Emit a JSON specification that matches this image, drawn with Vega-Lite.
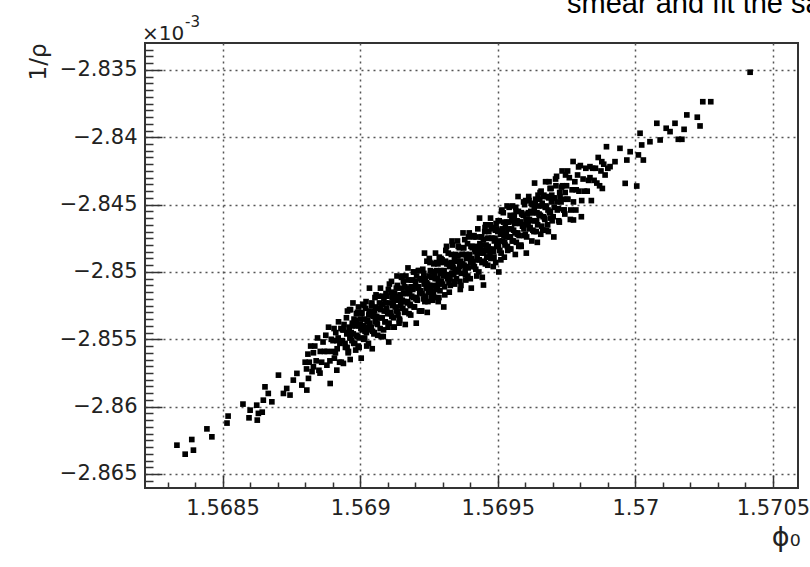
{
"$schema": "https://vega.github.io/schema/vega-lite/v6.json",
"width": 653, "height": 445,
"autosize": {"type": "none"},
"padding": {"left": 145, "top": 43, "right": 12, "bottom": 79},
"background": "white",
"config": {"view": {"stroke": "#333", "strokeWidth": 2}, "font": "DejaVu Sans"},
"data": {"values": [
{"x":1.568334,"y":-2.86286},{"x":1.568364,"y":-2.86353},{"x":1.568388,"y":-2.86244},{"x":1.568394,"y":-2.86323},{"x":1.568443,"y":-2.86165},{"x":1.568461,"y":-2.86224},{"x":1.568516,"y":-2.86122},{"x":1.56852,"y":-2.8607},{"x":1.568574,"y":-2.85981},{"x":1.568596,"y":-2.86083},{"x":1.5686,"y":-2.86026},{"x":1.568624,"y":-2.85989},{"x":1.568626,"y":-2.861},{"x":1.56863,"y":-2.8605},{"x":1.568644,"y":-2.86041},{"x":1.568648,"y":-2.85952},{"x":1.568654,"y":-2.85853},{"x":1.568666,"y":-2.85902},{"x":1.568679,"y":-2.85964},{"x":1.568703,"y":-2.85766},{"x":1.568721,"y":-2.85902},{"x":1.568733,"y":-2.85865},{"x":1.568745,"y":-2.85914},{"x":1.568757,"y":-2.85803},{"x":1.56877,"y":-2.85753},{"x":1.568788,"y":-2.8584},{"x":1.568806,"y":-2.85877},{"x":1.568812,"y":-2.8579},{"x":1.56883,"y":-2.85704},{"x":1.568854,"y":-2.85751},{"x":1.568879,"y":-2.85692},{"x":1.568891,"y":-2.85828},{"x":1.568915,"y":-2.85729},{"x":1.568939,"y":-2.85679},
{"x":1.5688,"y":-2.8567},{"x":1.568805,"y":-2.8572},{"x":1.56881,"y":-2.8561},{"x":1.568815,"y":-2.8567},{"x":1.56882,"y":-2.8555},{"x":1.568825,"y":-2.8574},{"x":1.56883,"y":-2.856},{"x":1.568835,"y":-2.8555},{"x":1.56884,"y":-2.8566},{"x":1.568845,"y":-2.8549},{"x":1.56885,"y":-2.8573},{"x":1.568855,"y":-2.8559},{"x":1.56886,"y":-2.8567},{"x":1.568865,"y":-2.8552},{"x":1.56887,"y":-2.8559},{"x":1.568875,"y":-2.8547},{"x":1.56888,"y":-2.8559},{"x":1.568885,"y":-2.8541},{"x":1.56889,"y":-2.8566},{"x":1.568895,"y":-2.855},{"x":1.5689,"y":-2.8559},{"x":1.568905,"y":-2.8542},{"x":1.56891,"y":-2.856},{"x":1.568915,"y":-2.8551},{"x":1.56892,"y":-2.8549},{"x":1.568925,"y":-2.8567},{"x":1.56893,"y":-2.8542},{"x":1.568935,"y":-2.8551},{"x":1.56894,"y":-2.8543},{"x":1.568945,"y":-2.8553},
{"x":1.56895,"y":-2.8534},{"x":1.5689525,"y":-2.8556},{"x":1.568955,"y":-2.8545},{"x":1.5689575,"y":-2.8559},{"x":1.56896,"y":-2.8541},{"x":1.5689625,"y":-2.8549},{"x":1.568965,"y":-2.8528},{"x":1.5689675,"y":-2.8545},{"x":1.56897,"y":-2.8551},{"x":1.5689725,"y":-2.854},{"x":1.568975,"y":-2.8546},{"x":1.5689775,"y":-2.8535},{"x":1.56898,"y":-2.8553},{"x":1.5689825,"y":-2.854},{"x":1.568985,"y":-2.8536},{"x":1.5689875,"y":-2.8547},{"x":1.56899,"y":-2.853},{"x":1.5689925,"y":-2.8555},{"x":1.568995,"y":-2.854},{"x":1.5689975,"y":-2.8549},
{"x":1.569,"y":-2.8535},{"x":1.5690025,"y":-2.8542},{"x":1.569005,"y":-2.853},{"x":1.5690075,"y":-2.8543},{"x":1.56901,"y":-2.8524},{"x":1.5690125,"y":-2.855},{"x":1.569015,"y":-2.8535},{"x":1.5690175,"y":-2.8544},{"x":1.56902,"y":-2.8527},{"x":1.5690225,"y":-2.8545},{"x":1.569025,"y":-2.8537},{"x":1.5690275,"y":-2.8536},{"x":1.56903,"y":-2.8553},{"x":1.5690325,"y":-2.8529},{"x":1.569035,"y":-2.8538},{"x":1.5690375,"y":-2.853},{"x":1.56904,"y":-2.8541},{"x":1.5690425,"y":-2.8523},{"x":1.569045,"y":-2.8544},{"x":1.5690475,"y":-2.8533},
{"x":1.56905,"y":-2.8546},{"x":1.5690525,"y":-2.8529},{"x":1.569055,"y":-2.8537},{"x":1.5690575,"y":-2.8517},{"x":1.56906,"y":-2.8533},{"x":1.5690625,"y":-2.8539},{"x":1.569065,"y":-2.8527},{"x":1.5690675,"y":-2.8534},{"x":1.56907,"y":-2.8523},{"x":1.5690725,"y":-2.8542},{"x":1.569075,"y":-2.8528},{"x":1.5690775,"y":-2.8524},{"x":1.56908,"y":-2.8534},{"x":1.5690825,"y":-2.8518},{"x":1.569085,"y":-2.8543},{"x":1.5690875,"y":-2.8529},{"x":1.56909,"y":-2.8537},{"x":1.5690925,"y":-2.8523},{"x":1.569095,"y":-2.8529},{"x":1.5690975,"y":-2.8518},
{"x":1.5691,"y":-2.8531},{"x":1.5691025,"y":-2.8513},{"x":1.569105,"y":-2.8538},{"x":1.5691075,"y":-2.8523},{"x":1.56911,"y":-2.8531},{"x":1.5691125,"y":-2.8515},{"x":1.569115,"y":-2.8533},{"x":1.5691175,"y":-2.8525},{"x":1.56912,"y":-2.8523},{"x":1.5691225,"y":-2.8541},{"x":1.569125,"y":-2.8516},{"x":1.5691275,"y":-2.8526},{"x":1.56913,"y":-2.8518},{"x":1.5691325,"y":-2.8529},{"x":1.569135,"y":-2.851},{"x":1.5691375,"y":-2.8532},{"x":1.56914,"y":-2.8521},{"x":1.5691425,"y":-2.8535},{"x":1.569145,"y":-2.8517},{"x":1.5691475,"y":-2.8525},
{"x":1.56915,"y":-2.8504},{"x":1.5691525,"y":-2.8521},{"x":1.569155,"y":-2.8527},{"x":1.5691575,"y":-2.8516},{"x":1.56916,"y":-2.8522},{"x":1.5691625,"y":-2.8511},{"x":1.569165,"y":-2.8529},{"x":1.5691675,"y":-2.8516},{"x":1.56917,"y":-2.8512},{"x":1.5691725,"y":-2.8523},{"x":1.569175,"y":-2.8506},{"x":1.5691775,"y":-2.8531},{"x":1.56918,"y":-2.8516},{"x":1.5691825,"y":-2.8525},{"x":1.569185,"y":-2.8511},{"x":1.5691875,"y":-2.8518},{"x":1.56919,"y":-2.8506},{"x":1.5691925,"y":-2.8519},{"x":1.569195,"y":-2.85},{"x":1.5691975,"y":-2.8526},
{"x":1.5692,"y":-2.8511},{"x":1.5692025,"y":-2.852},{"x":1.569205,"y":-2.8503},{"x":1.5692075,"y":-2.8521},{"x":1.56921,"y":-2.8512},{"x":1.5692125,"y":-2.8511},{"x":1.569215,"y":-2.8529},{"x":1.5692175,"y":-2.8505},{"x":1.56922,"y":-2.8514},{"x":1.5692225,"y":-2.8506},{"x":1.569225,"y":-2.8516},{"x":1.5692275,"y":-2.8498},{"x":1.56923,"y":-2.852},{"x":1.5692325,"y":-2.8509},{"x":1.569235,"y":-2.8522},{"x":1.5692375,"y":-2.8505},{"x":1.56924,"y":-2.8512},{"x":1.5692425,"y":-2.8492},{"x":1.569245,"y":-2.8509},{"x":1.5692475,"y":-2.8515},
{"x":1.56925,"y":-2.8503},{"x":1.5692525,"y":-2.851},{"x":1.569255,"y":-2.8499},{"x":1.5692575,"y":-2.8518},{"x":1.56926,"y":-2.8504},{"x":1.5692625,"y":-2.85},{"x":1.569265,"y":-2.851},{"x":1.5692675,"y":-2.8494},{"x":1.56927,"y":-2.8519},{"x":1.5692725,"y":-2.8505},{"x":1.569275,"y":-2.8513},{"x":1.5692775,"y":-2.8499},{"x":1.56928,"y":-2.8505},{"x":1.5692825,"y":-2.8494},{"x":1.569285,"y":-2.8507},{"x":1.5692875,"y":-2.8489},{"x":1.56929,"y":-2.8514},{"x":1.5692925,"y":-2.8499},{"x":1.569295,"y":-2.8507},{"x":1.5692975,"y":-2.8491},
{"x":1.5693,"y":-2.8509},{"x":1.5693025,"y":-2.8501},{"x":1.569305,"y":-2.8499},{"x":1.5693075,"y":-2.8517},{"x":1.56931,"y":-2.8492},{"x":1.5693125,"y":-2.8502},{"x":1.569315,"y":-2.8494},{"x":1.5693175,"y":-2.8505},{"x":1.56932,"y":-2.8486},{"x":1.5693225,"y":-2.8508},{"x":1.569325,"y":-2.8496},{"x":1.5693275,"y":-2.851},{"x":1.56933,"y":-2.8493},{"x":1.5693325,"y":-2.8501},{"x":1.569335,"y":-2.848},{"x":1.5693375,"y":-2.8497},{"x":1.56934,"y":-2.8502},{"x":1.5693425,"y":-2.8491},{"x":1.569345,"y":-2.8498},{"x":1.5693475,"y":-2.8487},
{"x":1.56935,"y":-2.8505},{"x":1.5693525,"y":-2.8492},{"x":1.569355,"y":-2.8488},{"x":1.5693575,"y":-2.8499},{"x":1.56936,"y":-2.8482},{"x":1.5693625,"y":-2.8507},{"x":1.569365,"y":-2.8492},{"x":1.5693675,"y":-2.8501},{"x":1.56937,"y":-2.8487},{"x":1.5693725,"y":-2.8494},{"x":1.569375,"y":-2.8482},{"x":1.5693775,"y":-2.8495},{"x":1.56938,"y":-2.8476},{"x":1.5693825,"y":-2.8502},{"x":1.569385,"y":-2.8487},{"x":1.5693875,"y":-2.8496},{"x":1.56939,"y":-2.8479},{"x":1.5693925,"y":-2.8497},{"x":1.569395,"y":-2.8488},{"x":1.5693975,"y":-2.8487},
{"x":1.5694,"y":-2.8505},{"x":1.5694025,"y":-2.8481},{"x":1.569405,"y":-2.849},{"x":1.5694075,"y":-2.8482},{"x":1.56941,"y":-2.8492},{"x":1.5694125,"y":-2.8474},{"x":1.569415,"y":-2.8496},{"x":1.5694175,"y":-2.8485},{"x":1.56942,"y":-2.8498},{"x":1.5694225,"y":-2.8481},{"x":1.569425,"y":-2.8488},{"x":1.5694275,"y":-2.8468},{"x":1.56943,"y":-2.8485},{"x":1.5694325,"y":-2.8491},{"x":1.569435,"y":-2.8479},{"x":1.5694375,"y":-2.8486},{"x":1.56944,"y":-2.8474},{"x":1.5694425,"y":-2.8493},{"x":1.569445,"y":-2.848},{"x":1.5694475,"y":-2.8476},
{"x":1.56945,"y":-2.8486},{"x":1.5694525,"y":-2.847},{"x":1.569455,"y":-2.8494},{"x":1.5694575,"y":-2.848},{"x":1.56946,"y":-2.8489},{"x":1.5694625,"y":-2.8475},{"x":1.569465,"y":-2.8481},{"x":1.5694675,"y":-2.847},{"x":1.56947,"y":-2.8483},{"x":1.5694725,"y":-2.8465},{"x":1.569475,"y":-2.849},{"x":1.5694775,"y":-2.8475},{"x":1.56948,"y":-2.8483},{"x":1.5694825,"y":-2.8467},{"x":1.569485,"y":-2.8485},{"x":1.5694875,"y":-2.8477},{"x":1.56949,"y":-2.8475},{"x":1.5694925,"y":-2.8493},{"x":1.569495,"y":-2.8468},{"x":1.5694975,"y":-2.8478},
{"x":1.5695,"y":-2.847},{"x":1.5695025,"y":-2.8481},{"x":1.569505,"y":-2.8462},{"x":1.5695075,"y":-2.8484},{"x":1.56951,"y":-2.8472},{"x":1.5695125,"y":-2.8486},{"x":1.569515,"y":-2.8469},{"x":1.5695175,"y":-2.8477},{"x":1.56952,"y":-2.8456},{"x":1.5695225,"y":-2.8473},{"x":1.569525,"y":-2.8478},{"x":1.5695275,"y":-2.8467},{"x":1.56953,"y":-2.8474},{"x":1.5695325,"y":-2.8463},{"x":1.569535,"y":-2.8481},{"x":1.5695375,"y":-2.8468},{"x":1.56954,"y":-2.8463},{"x":1.5695425,"y":-2.8474},{"x":1.569545,"y":-2.8458},{"x":1.5695475,"y":-2.8483},
{"x":1.56955,"y":-2.8468},{"x":1.5695525,"y":-2.8477},{"x":1.569555,"y":-2.8462},{"x":1.5695575,"y":-2.8469},{"x":1.56956,"y":-2.8458},{"x":1.5695625,"y":-2.8471},{"x":1.569565,"y":-2.8452},{"x":1.5695675,"y":-2.8478},{"x":1.56957,"y":-2.8462},{"x":1.5695725,"y":-2.8471},{"x":1.569575,"y":-2.8455},{"x":1.5695775,"y":-2.8473},{"x":1.56958,"y":-2.8464},{"x":1.5695825,"y":-2.8463},{"x":1.569585,"y":-2.8481},{"x":1.5695875,"y":-2.8457},{"x":1.56959,"y":-2.8466},{"x":1.5695925,"y":-2.8458},{"x":1.569595,"y":-2.8468},{"x":1.5695975,"y":-2.845},
{"x":1.5696,"y":-2.8472},{"x":1.5696025,"y":-2.8461},{"x":1.569605,"y":-2.8474},{"x":1.5696075,"y":-2.8457},{"x":1.56961,"y":-2.8464},{"x":1.5696125,"y":-2.8444},{"x":1.569615,"y":-2.8461},{"x":1.5696175,"y":-2.8467},{"x":1.56962,"y":-2.8455},{"x":1.5696225,"y":-2.8462},{"x":1.569625,"y":-2.845},{"x":1.5696275,"y":-2.8469},{"x":1.56963,"y":-2.8456},{"x":1.5696325,"y":-2.8452},{"x":1.569635,"y":-2.8462},{"x":1.5696375,"y":-2.8446},{"x":1.56964,"y":-2.847},{"x":1.5696425,"y":-2.8456},{"x":1.569645,"y":-2.8465},{"x":1.5696475,"y":-2.8451},
{"x":1.56965,"y":-2.8457},{"x":1.5696525,"y":-2.8446},{"x":1.569655,"y":-2.8458},{"x":1.5696575,"y":-2.844},{"x":1.56966,"y":-2.8466},{"x":1.5696625,"y":-2.8451},{"x":1.569665,"y":-2.8459},{"x":1.5696675,"y":-2.8443},{"x":1.56967,"y":-2.846},{"x":1.5696725,"y":-2.8452},{"x":1.569675,"y":-2.8451},{"x":1.5696775,"y":-2.8469},{"x":1.56968,"y":-2.8444},{"x":1.5696825,"y":-2.8454},{"x":1.569685,"y":-2.8445},{"x":1.5696875,"y":-2.8456},{"x":1.56969,"y":-2.8438},{"x":1.5696925,"y":-2.846},{"x":1.569695,"y":-2.8448},{"x":1.5696975,"y":-2.8462},
{"x":1.5697,"y":-2.8445},{"x":1.569705,"y":-2.8452},{"x":1.56971,"y":-2.8431},{"x":1.569715,"y":-2.8448},{"x":1.56972,"y":-2.8453},{"x":1.569725,"y":-2.8441},{"x":1.56973,"y":-2.8448},{"x":1.569735,"y":-2.8436},{"x":1.56974,"y":-2.8454},{"x":1.569745,"y":-2.8441},{"x":1.56975,"y":-2.8436},{"x":1.569755,"y":-2.8446},{"x":1.56976,"y":-2.843},{"x":1.569765,"y":-2.8454},{"x":1.56977,"y":-2.8439},{"x":1.569775,"y":-2.8448},{"x":1.56978,"y":-2.8433},{"x":1.569785,"y":-2.8439},{"x":1.56979,"y":-2.8428},{"x":1.569795,"y":-2.844},{"x":1.5698,"y":-2.8421},{"x":1.569805,"y":-2.8447},{"x":1.56981,"y":-2.8431},{"x":1.569815,"y":-2.844},{"x":1.56982,"y":-2.8423},{"x":1.569825,"y":-2.844},{"x":1.56983,"y":-2.8432},{"x":1.569835,"y":-2.843},{"x":1.56984,"y":-2.8447},{"x":1.569845,"y":-2.8423},{"x":1.56985,"y":-2.8432},{"x":1.569855,"y":-2.8423},{"x":1.56986,"y":-2.8434},{"x":1.569865,"y":-2.8415},{"x":1.56987,"y":-2.8436},{"x":1.569875,"y":-2.8425},{"x":1.56988,"y":-2.8438},{"x":1.569885,"y":-2.842},{"x":1.56989,"y":-2.8428},{"x":1.569895,"y":-2.8407},{"x":1.5699,"y":-2.8423},
{"x":1.570417,"y":-2.83517},{"x":1.570245,"y":-2.83736},{"x":1.570274,"y":-2.83736},{"x":1.570187,"y":-2.83834},{"x":1.570225,"y":-2.83851},{"x":1.570235,"y":-2.83916},{"x":1.570144,"y":-2.83896},{"x":1.570177,"y":-2.83941},{"x":1.570078,"y":-2.83896},{"x":1.570112,"y":-2.83933},{"x":1.570126,"y":-2.83958},{"x":1.570156,"y":-2.84015},{"x":1.570169,"y":-2.84015},{"x":1.570017,"y":-2.8397},{"x":1.57009,"y":-2.8402},{"x":1.570053,"y":-2.84033},{"x":1.570023,"y":-2.84057},{"x":1.569944,"y":-2.84082},{"x":1.569981,"y":-2.84107},{"x":1.570011,"y":-2.84131},{"x":1.570029,"y":-2.84169},{"x":1.569969,"y":-2.84169},{"x":1.569926,"y":-2.84181},{"x":1.570005,"y":-2.84362},{"x":1.569963,"y":-2.84342},{"x":1.569878,"y":-2.84181},{"x":1.569908,"y":-2.84218},{"x":1.569835,"y":-2.84218},
{"x":1.569775,"y":-2.84614},{"x":1.569448,"y":-2.85097},{"x":1.569515,"y":-2.8454},{"x":1.569157,"y":-2.85073},
{"x":1.56890125,"y":-2.8551},{"x":1.56890625,"y":-2.8564},{"x":1.56891125,"y":-2.8545},{"x":1.56891625,"y":-2.8557},{"x":1.56892125,"y":-2.8537},{"x":1.56892625,"y":-2.8553},{"x":1.56893125,"y":-2.8567},{"x":1.56893625,"y":-2.8543},{"x":1.56894125,"y":-2.8539},{"x":1.56894625,"y":-2.8556},
{"x":1.56895125,"y":-2.8546},{"x":1.56895625,"y":-2.856},{"x":1.56896125,"y":-2.8528},{"x":1.56896625,"y":-2.8549},{"x":1.56897125,"y":-2.8538},{"x":1.56897625,"y":-2.8553},{"x":1.56898125,"y":-2.8539},{"x":1.56898625,"y":-2.8531},{"x":1.56899125,"y":-2.8548},{"x":1.56899625,"y":-2.8556},
{"x":1.56900125,"y":-2.8539},{"x":1.56900625,"y":-2.8531},{"x":1.56901125,"y":-2.854},{"x":1.56901625,"y":-2.8549},{"x":1.56902125,"y":-2.8522},{"x":1.56902625,"y":-2.8541},{"x":1.56903125,"y":-2.8532},{"x":1.56903625,"y":-2.8543},{"x":1.56904125,"y":-2.8525},{"x":1.56904625,"y":-2.8532},
{"x":1.56905125,"y":-2.8545},{"x":1.56905625,"y":-2.8526},{"x":1.56906125,"y":-2.8538},{"x":1.56906625,"y":-2.8518},{"x":1.56907125,"y":-2.8534},{"x":1.56907625,"y":-2.8548},{"x":1.56908125,"y":-2.8524},{"x":1.56908625,"y":-2.852},{"x":1.56909125,"y":-2.8537},{"x":1.56909625,"y":-2.8527},
{"x":1.56910125,"y":-2.8541},{"x":1.56910625,"y":-2.8509},{"x":1.56911125,"y":-2.853},{"x":1.56911625,"y":-2.8519},{"x":1.56912125,"y":-2.8534},{"x":1.56912625,"y":-2.852},{"x":1.56913125,"y":-2.8512},{"x":1.56913625,"y":-2.8529},{"x":1.56914125,"y":-2.8538},{"x":1.56914625,"y":-2.852},
{"x":1.56915125,"y":-2.8512},{"x":1.56915625,"y":-2.8522},{"x":1.56916125,"y":-2.853},{"x":1.56916625,"y":-2.8503},{"x":1.56917125,"y":-2.8522},{"x":1.56917625,"y":-2.8513},{"x":1.56918125,"y":-2.8524},{"x":1.56918625,"y":-2.8506},{"x":1.56919125,"y":-2.8513},{"x":1.56919625,"y":-2.8526},
{"x":1.56920125,"y":-2.8507},{"x":1.56920625,"y":-2.8519},{"x":1.56921125,"y":-2.8499},{"x":1.56921625,"y":-2.8515},{"x":1.56922125,"y":-2.8529},{"x":1.56922625,"y":-2.8505},{"x":1.56923125,"y":-2.8501},{"x":1.56923625,"y":-2.8518},{"x":1.56924125,"y":-2.8508},{"x":1.56924625,"y":-2.8522},
{"x":1.56925125,"y":-2.849},{"x":1.56925625,"y":-2.8512},{"x":1.56926125,"y":-2.85},{"x":1.56926625,"y":-2.8515},{"x":1.56927125,"y":-2.8502},{"x":1.56927625,"y":-2.8493},{"x":1.56928125,"y":-2.851},{"x":1.56928625,"y":-2.8519},{"x":1.56929125,"y":-2.8501},{"x":1.56929625,"y":-2.8493},
{"x":1.56930125,"y":-2.8503},{"x":1.56930625,"y":-2.8511},{"x":1.56931125,"y":-2.8484},{"x":1.56931625,"y":-2.8503},{"x":1.56932125,"y":-2.8494},{"x":1.56932625,"y":-2.8505},{"x":1.56933125,"y":-2.8487},{"x":1.56933625,"y":-2.8494},{"x":1.56934125,"y":-2.8507},{"x":1.56934625,"y":-2.8488},
{"x":1.56935125,"y":-2.85},{"x":1.56935625,"y":-2.8481},{"x":1.56936125,"y":-2.8496},{"x":1.56936625,"y":-2.851},{"x":1.56937125,"y":-2.8487},{"x":1.56937625,"y":-2.8482},{"x":1.56938125,"y":-2.8499},{"x":1.56938625,"y":-2.849},{"x":1.56939125,"y":-2.8503},{"x":1.56939625,"y":-2.8471},
{"x":1.56940125,"y":-2.8493},{"x":1.56940625,"y":-2.8481},{"x":1.56941125,"y":-2.8496},{"x":1.56941625,"y":-2.8483},{"x":1.56942125,"y":-2.8474},{"x":1.56942625,"y":-2.8491},{"x":1.56943125,"y":-2.85},{"x":1.56943625,"y":-2.8482},{"x":1.56944125,"y":-2.8474},{"x":1.56944625,"y":-2.8484},
{"x":1.56945125,"y":-2.8492},{"x":1.56945625,"y":-2.8465},{"x":1.56946125,"y":-2.8484},{"x":1.56946625,"y":-2.8475},{"x":1.56947125,"y":-2.8487},{"x":1.56947625,"y":-2.8468},{"x":1.56948125,"y":-2.8475},{"x":1.56948625,"y":-2.8489},{"x":1.56949125,"y":-2.8469},{"x":1.56949625,"y":-2.8481},
{"x":1.56950125,"y":-2.8462},{"x":1.56950625,"y":-2.8477},{"x":1.56951125,"y":-2.8491},{"x":1.56951625,"y":-2.8468},{"x":1.56952125,"y":-2.8463},{"x":1.56952625,"y":-2.848},{"x":1.56953125,"y":-2.8471},{"x":1.56953625,"y":-2.8484},{"x":1.56954125,"y":-2.8452},{"x":1.56954625,"y":-2.8474},
{"x":1.56955125,"y":-2.8462},{"x":1.56955625,"y":-2.8477},{"x":1.56956125,"y":-2.8464},{"x":1.56956625,"y":-2.8455},{"x":1.56957125,"y":-2.8472},{"x":1.56957625,"y":-2.8481},{"x":1.56958125,"y":-2.8463},{"x":1.56958625,"y":-2.8456},{"x":1.56959125,"y":-2.8465},{"x":1.56959625,"y":-2.8473},
{"x":1.56960125,"y":-2.8447},{"x":1.56960625,"y":-2.8465},{"x":1.56961125,"y":-2.8456},{"x":1.56961625,"y":-2.8468},{"x":1.56962125,"y":-2.8449},{"x":1.56962625,"y":-2.8456},{"x":1.56963125,"y":-2.847},{"x":1.56963625,"y":-2.845},{"x":1.56964125,"y":-2.8462},{"x":1.56964625,"y":-2.8443},
{"x":1.56965125,"y":-2.8458},{"x":1.56965625,"y":-2.8472},{"x":1.56966125,"y":-2.8449},{"x":1.56966625,"y":-2.8444},{"x":1.56967125,"y":-2.8461},{"x":1.56967625,"y":-2.8452},{"x":1.56968125,"y":-2.8465},{"x":1.56968625,"y":-2.8433},{"x":1.56969125,"y":-2.8455},{"x":1.56969625,"y":-2.8443},
{"x":1.56970125,"y":-2.8459},{"x":1.56970625,"y":-2.8445},{"x":1.56971125,"y":-2.8436},{"x":1.56971625,"y":-2.8454},{"x":1.56972125,"y":-2.8462},{"x":1.56972625,"y":-2.8444},{"x":1.56973125,"y":-2.8437},{"x":1.56973625,"y":-2.8446},{"x":1.56974125,"y":-2.8454},{"x":1.56974625,"y":-2.8428},{"x":1.56975125,"y":-2.8446},
{"x":1.5689537,"y":-2.8529},{"x":1.5689637,"y":-2.8565},{"x":1.5689737,"y":-2.8523},{"x":1.5689837,"y":-2.8558},{"x":1.5689937,"y":-2.8526},{"x":1.5690037,"y":-2.8564},{"x":1.5690137,"y":-2.8525},{"x":1.5690237,"y":-2.8555},{"x":1.5690337,"y":-2.8512},{"x":1.5690437,"y":-2.8557},
{"x":1.5690537,"y":-2.8519},{"x":1.5690637,"y":-2.8547},{"x":1.5690737,"y":-2.8512},{"x":1.5690837,"y":-2.8548},{"x":1.5690937,"y":-2.8516},{"x":1.5691037,"y":-2.8552},{"x":1.5691137,"y":-2.8507},{"x":1.5691237,"y":-2.8541},{"x":1.5691337,"y":-2.8503},{"x":1.5691437,"y":-2.8536},
{"x":1.5691537,"y":-2.8503},{"x":1.5691637,"y":-2.8539},{"x":1.5691737,"y":-2.8497},{"x":1.5691837,"y":-2.8532},{"x":1.5691937,"y":-2.85},{"x":1.5692037,"y":-2.8538},{"x":1.5692137,"y":-2.8499},{"x":1.5692237,"y":-2.8529},{"x":1.5692337,"y":-2.8486},{"x":1.5692437,"y":-2.853},
{"x":1.5692537,"y":-2.8493},{"x":1.5692637,"y":-2.8521},{"x":1.5692737,"y":-2.8486},{"x":1.5692837,"y":-2.8522},{"x":1.5692937,"y":-2.849},{"x":1.5693037,"y":-2.8526},{"x":1.5693137,"y":-2.8481},{"x":1.5693237,"y":-2.8515},{"x":1.5693337,"y":-2.8477},{"x":1.5693437,"y":-2.8509},
{"x":1.5693537,"y":-2.8477},{"x":1.5693637,"y":-2.8513},{"x":1.5693737,"y":-2.8471},{"x":1.5693837,"y":-2.8506},{"x":1.5693937,"y":-2.8474},{"x":1.5694037,"y":-2.8512},{"x":1.5694137,"y":-2.8473},{"x":1.5694237,"y":-2.8503},{"x":1.5694337,"y":-2.846},{"x":1.5694437,"y":-2.8504},
{"x":1.5694537,"y":-2.8467},{"x":1.5694637,"y":-2.8495},{"x":1.5694737,"y":-2.846},{"x":1.5694837,"y":-2.8496},{"x":1.5694937,"y":-2.8464},{"x":1.5695037,"y":-2.85},{"x":1.5695137,"y":-2.8455},{"x":1.5695237,"y":-2.8489},{"x":1.5695337,"y":-2.8451},{"x":1.5695437,"y":-2.8483},
{"x":1.5695537,"y":-2.8451},{"x":1.5695637,"y":-2.8487},{"x":1.5695737,"y":-2.8444},{"x":1.5695837,"y":-2.848},{"x":1.5695937,"y":-2.8448},{"x":1.5696037,"y":-2.8486},{"x":1.5696137,"y":-2.8447},{"x":1.5696237,"y":-2.8477},{"x":1.5696337,"y":-2.8434},{"x":1.5696437,"y":-2.8478},
{"x":1.5696537,"y":-2.8441},{"x":1.5696637,"y":-2.8469},{"x":1.5696737,"y":-2.8433},{"x":1.5696837,"y":-2.847},{"x":1.5696937,"y":-2.8438},{"x":1.5697037,"y":-2.8474},{"x":1.5697137,"y":-2.8429},{"x":1.5697237,"y":-2.8463},{"x":1.5697337,"y":-2.8425},{"x":1.5697437,"y":-2.8457},
{"x":1.5697537,"y":-2.8425},{"x":1.5697637,"y":-2.8461},{"x":1.5697737,"y":-2.8418},{"x":1.5697837,"y":-2.8454},{"x":1.5697937,"y":-2.8422},{"x":1.5698037,"y":-2.8459}
]},
"layer": [
{"mark": {"type": "point", "shape": "square", "filled": true, "size": 32, "color": "black", "opacity": 1},
 "encoding": {
  "x": {"field": "x", "type": "quantitative",
   "scale": {"domain": [1.568218, 1.570591], "nice": false, "zero": false},
   "axis": {
    "values": [1.5683,1.5684,1.5685,1.5686,1.5687,1.5688,1.5689,1.569,1.5691,1.5692,1.5693,1.5694,1.5695,1.5696,1.5697,1.5698,1.5699,1.57,1.5701,1.5702,1.5703,1.5704,1.5705],
    "tickCount": 200,
    "labelExpr": "abs(datum.value*2000 - round(datum.value*2000)) < 0.01 ? format(datum.value, '.4~f') : ''",
    "tickSize": {"condition": {"test": "abs(datum.value*2000 - round(datum.value*2000)) < 0.01", "value": -13}, "value": -6},
    "grid": true,
    "gridOpacity": {"condition": {"test": "abs(datum.value*2000 - round(datum.value*2000)) < 0.01", "value": 1}, "value": 0},
    "gridDash": [2, 4], "gridColor": "#555", "gridWidth": 1.5,
    "domain": false, "tickColor": "#333", "tickWidth": 1.5,
    "labelFont": "DejaVu Sans", "labelFontSize": 21, "labelColor": "#222", "labelPadding": 22, "labelFlush": false, "labelOverlap": false,
    "title": "ϕ₀", "titleFont": "DejaVu Sans", "titleFontSize": 27, "titleFontWeight": "normal", "titleColor": "#222",
    "titleAnchor": "end", "titleAlign": "right", "titleX": 655, "titleY": 57, "titleBaseline": "alphabetic"
   }},
  "y": {"field": "y", "type": "quantitative",
   "scale": {"domain": [-2.86604, -2.833], "nice": false, "zero": false},
   "axis": {
    "values": [-2.8655,-2.865,-2.8645,-2.864,-2.8635,-2.863,-2.8625,-2.862,-2.8615,-2.861,-2.8605,-2.86,-2.8595,-2.859,-2.8585,-2.858,-2.8575,-2.857,-2.8565,-2.856,-2.8555,-2.855,-2.8545,-2.854,-2.8535,-2.853,-2.8525,-2.852,-2.8515,-2.851,-2.8505,-2.85,-2.8495,-2.849,-2.8485,-2.848,-2.8475,-2.847,-2.8465,-2.846,-2.8455,-2.845,-2.8445,-2.844,-2.8435,-2.843,-2.8425,-2.842,-2.8415,-2.841,-2.8405,-2.84,-2.8395,-2.839,-2.8385,-2.838,-2.8375,-2.837,-2.8365,-2.836,-2.8355,-2.835,-2.8345,-2.834,-2.8335],
    "tickCount": 200,
    "labelExpr": "abs(datum.value*200 - round(datum.value*200)) < 0.01 ? format(datum.value, '.3~f') : ''",
    "tickSize": {"condition": {"test": "abs(datum.value*200 - round(datum.value*200)) < 0.01", "value": -17}, "value": -8},
    "grid": true,
    "gridOpacity": {"condition": {"test": "abs(datum.value*200 - round(datum.value*200)) < 0.01", "value": 1}, "value": 0},
    "gridDash": [2, 4], "gridColor": "#555", "gridWidth": 1.5,
    "domain": false, "tickColor": "#333", "tickWidth": 1.5,
    "labelFont": "DejaVu Sans", "labelFontSize": 21, "labelColor": "#222", "labelPadding": 25, "labelFlush": false, "labelOverlap": false,
    "title": "1/ρ", "titleFont": "DejaVu Sans", "titleFontSize": 23, "titleFontWeight": "normal", "titleColor": "#222",
    "titleAnchor": "end", "titleAlign": "right", "titleAngle": -90, "titleX": -100, "titleY": 0, "titleBaseline": "alphabetic"
   }}
 }},
{"data": {"values": [{}]},
 "mark": {"type": "text", "text": "×10", "align": "left", "baseline": "alphabetic", "fontSize": 20, "font": "DejaVu Sans", "dx": -3, "dy": -3, "color": "#222"},
 "encoding": {"x": {"datum": 1.568218, "type": "quantitative"}, "y": {"datum": -2.833, "type": "quantitative"}}},
{"data": {"values": [{}]},
 "mark": {"type": "text", "text": "-3", "align": "left", "baseline": "alphabetic", "fontSize": 15, "font": "DejaVu Sans", "dx": 40, "dy": -16, "color": "#222"},
 "encoding": {"x": {"datum": 1.568218, "type": "quantitative"}, "y": {"datum": -2.833, "type": "quantitative"}}},
{"data": {"values": [{}]},
 "mark": {"type": "text", "text": "smear and fit the same", "align": "left", "baseline": "alphabetic", "fontSize": 29, "font": "Liberation Sans", "dx": 422, "dy": -30, "color": "black"},
 "encoding": {"x": {"datum": 1.568218, "type": "quantitative"}, "y": {"datum": -2.833, "type": "quantitative"}}}
]
}
